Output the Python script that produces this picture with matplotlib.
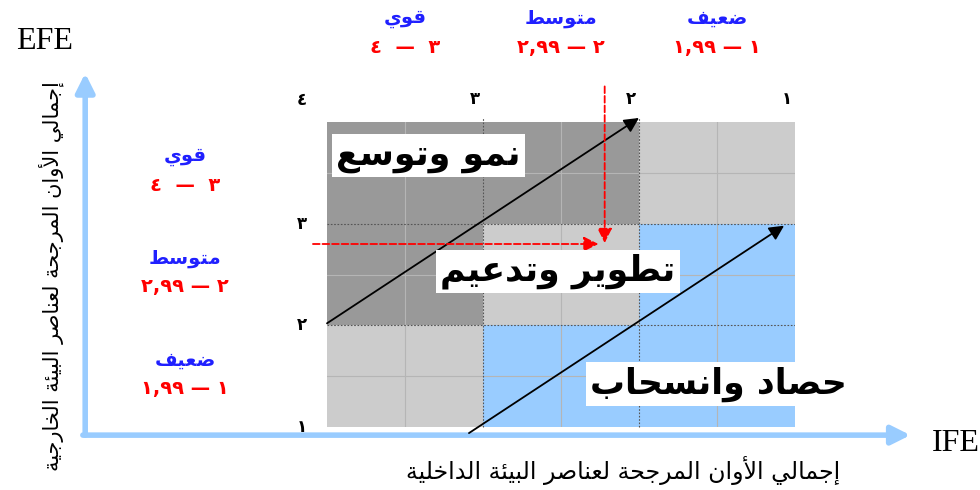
import matplotlib.pyplot as plt
import numpy as np
from matplotlib.colors import ListedColormap

# data
edges = [1, 2, 3, 4]
tick_digits = ['١', '٢', '٣', '٤']
levels = ['قوي', 'متوسط', 'ضعيف']            # 4-3, 3-2, 2-1
ranges = ['٤  —  ٣', '٢,٩٩ — ٢', '١,٩٩ — ١']
# zone per cell, rows = EFE 1-2, 2-3, 3-4 ; cols = IFE 4-3, 3-2, 2-1
# 0 grow, 1 hold, 2 harvest
zones = [[1, 2, 2],
         [0, 1, 2],
         [0, 0, 1]]
zone_names = ['نمو وتوسع', 'تطوير وتدعيم', 'حصاد وانسحاب']
zone_colors = ['#999999', '#cccccc', '#99ccff']
x_title = 'إجمالي الأوان المرجحة لعناصر البيئة الداخلية'
y_title = 'إجمالي الأوان المرجحة لعناصر البيئة الخارجية'
point = (2.22, 2.8)


# small arabic shaper (no bidi lib available)
_letters = 'ءآأؤإئابةتثجحخدذرزسشصضطظعغفقكلمنهوىي'
_right_only = 'آأؤإادذرزوىة'
FORMS = {}
cp = 0xFE80
for ch in _letters:
    n = 1 if ch == 'ء' else (2 if ch in _right_only else 4)
    FORMS[ch] = [cp + k for k in range(n)]
    cp += n
LAMALEF = {'آ': 0xFEF5, 'أ': 0xFEF7, 'إ': 0xFEF9, 'ا': 0xFEFB}


def ar(text):
    out = []
    i = 0
    while i < len(text):
        c = text[i]
        if c not in FORMS:
            out.append(c)
            i += 1
            continue
        prev = text[i - 1] if i > 0 else ''
        pj = prev in FORMS and len(FORMS[prev]) == 4
        nxt = text[i + 1] if i + 1 < len(text) else ''
        if c == 'ل' and nxt in LAMALEF:
            out.append(chr(LAMALEF[nxt] + (1 if pj else 0)))
            i += 2
            continue
        f = FORMS[c]
        nj = len(f) == 4 and nxt in FORMS
        if len(f) == 1:
            k = 0
        elif pj and nj:
            k = 3
        elif pj:
            k = 1
        elif nj:
            k = 2
        else:
            k = 0
        out.append(chr(f[k]))
        i += 1
    return ''.join(reversed(out))


fig = plt.figure(figsize=(9.8, 4.9), dpi=100)
ax = fig.add_axes([327 / 980, 63 / 490, 468 / 980, 305 / 490])
ax.set_xlim(4, 1)
ax.set_ylim(1, 4)
ax.axis('off')

ax.pcolormesh(edges[::-1], edges, zones, cmap=ListedColormap(zone_colors),
              vmin=-0.5, vmax=2.5, shading='flat')

# minor and major grid
for v in np.arange(1.5, 4, 1.0):
    ax.plot([v, v], [1, 4], color='#b5b5b5', lw=0.8)
    ax.plot([4, 1], [v, v], color='#b5b5b5', lw=0.8)
for v in [2, 3]:
    ax.plot([v, v], [1, 4.04], color='#555555', lw=0.8, ls=(0, (1.5, 1.5)), clip_on=False)
    ax.plot([4, 1], [v, v], color='#555555', lw=0.8, ls=(0, (1.5, 1.5)))

# outer axes arrows (light blue)
blue = '#99ccff'
ax.annotate('', xy=(5.55, 4.48), xytext=(5.55, 0.92),
            arrowprops=dict(arrowstyle='-|>', color=blue, lw=4, mutation_scale=28,
                            shrinkA=0, shrinkB=0), annotation_clip=False)
ax.annotate('', xy=(0.26, 0.92), xytext=(5.565, 0.92),
            arrowprops=dict(arrowstyle='-|>', color=blue, lw=4, mutation_scale=28,
                            shrinkA=0, shrinkB=0), annotation_clip=False)

# black strategy arrows
ax.annotate('', xy=(2.0, 4.04), xytext=(4.0, 2.02),
            arrowprops=dict(arrowstyle='-|>', color='black', lw=1.3, mutation_scale=22,
                            shrinkA=0, shrinkB=0), annotation_clip=False)
ax.annotate('', xy=(1.07, 2.98), xytext=(3.09, 0.94),
            arrowprops=dict(arrowstyle='-|>', color='black', lw=1.3, mutation_scale=22,
                            shrinkA=0, shrinkB=0), annotation_clip=False)

# red dashed position arrows
ax.annotate('', xy=(point[0] + 0.04, point[1]), xytext=(4.09, point[1]),
            arrowprops=dict(arrowstyle='-|>', color='red', lw=1.3, ls='--',
                            mutation_scale=22, shrinkA=0, shrinkB=0), annotation_clip=False)
ax.annotate('', xy=(point[0], point[1] + 0.01), xytext=(point[0], 4.35),
            arrowprops=dict(arrowstyle='-|>', color='red', lw=1.3, ls='--',
                            mutation_scale=22, shrinkA=0, shrinkB=0), annotation_clip=False)

# tick digits
for e, d in zip(edges, tick_digits):
    if e < 4:
        ax.text(e + 0.05, 4.23, d, ha='center', va='center', fontsize=12, fontweight='bold')
    ax.text(4.16, e if e < 4 else 4.22, d, ha='center', va='center', fontsize=12,
            fontweight='bold', clip_on=False)

# level headers
centers = [3.5, 2.5, 1.5]
for c, lv, rg in zip(centers, levels, ranges):
    ax.text(c, 5.02, ar(lv), ha='center', va='center', fontsize=14, fontweight='bold',
            color='#2020ff')
    ax.text(c, 4.73, rg, ha='center', va='center', fontsize=14, fontweight='bold',
            color='red')
    ax.text(4.91, c + 0.16, ar(lv), ha='center', va='center', fontsize=14,
            fontweight='bold', color='#2020ff')
    ax.text(4.91, c - 0.12, rg, ha='center', va='center', fontsize=14, fontweight='bold',
            color='red')

# zone labels
label_pos = [(3.35, 3.67), (2.52, 2.53), (1.49, 1.42)]
for (x, y), name in zip(label_pos, zone_names):
    ax.text(x, y, ar(name), ha='center', va='center', fontsize=25, fontweight='bold',
            bbox=dict(boxstyle='square,pad=0.12', facecolor='white', edgecolor='none'))

# axis names
ax.text(5.81, 4.79, 'EFE', ha='center', va='center', fontsize=23,
        family='Liberation Serif')
ax.text(-0.03, 0.84, 'IFE', ha='center', va='center', fontsize=23,
        family='Liberation Serif')
ax.text(2.1, 0.57, ar(x_title), ha='center', va='center', fontsize=17)
ax.text(5.77, 2.48, ar(y_title), ha='center', va='center', fontsize=15, rotation=90)

plt.savefig('out.png')
